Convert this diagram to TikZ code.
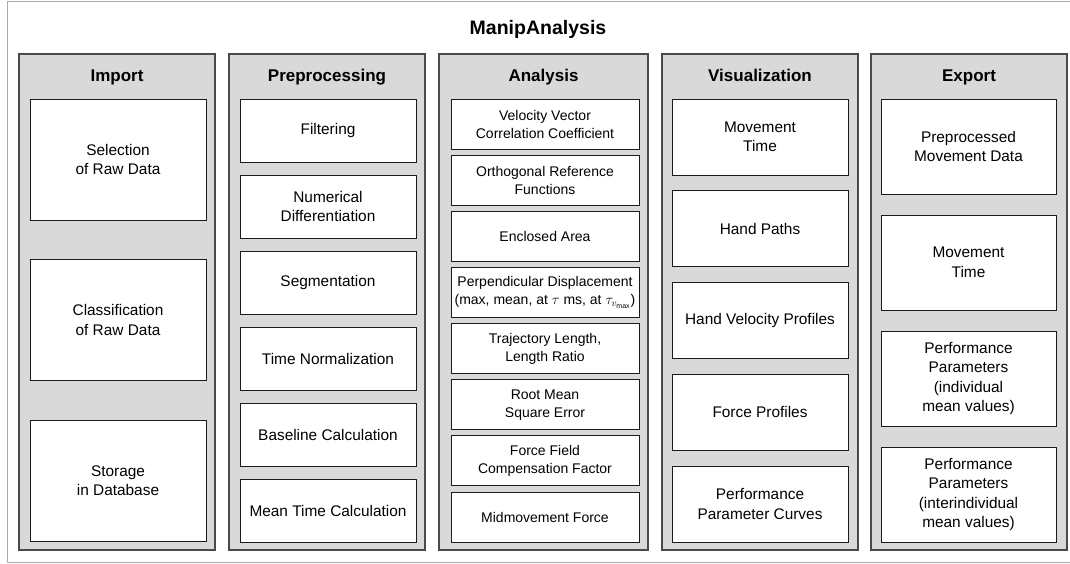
\documentclass[tikz,border=0pt]{standalone}
\usepackage{fontspec}
\usepackage{amsmath}
\setmainfont{Liberation Sans}
\definecolor{colfill}{HTML}{D9D9D9}
\definecolor{colborder}{HTML}{4A4A4A}
\definecolor{frameborder}{HTML}{ABABAB}
\definecolor{boxborder}{HTML}{1A1A1A}
\begin{document}
\begin{tikzpicture}[x=1pt,y=-1pt,
  column/.style={draw=colborder, fill=colfill, line width=1.3pt, minimum width=#1, minimum height=496pt, inner sep=0pt},
  inbox/.style={draw=boxborder, fill=white, line width=1pt, align=center, inner sep=2pt, font=\fontsize{15.4}{19.5}\selectfont, text=black},
  impbox/.style={inbox, minimum width=176pt, minimum height=121pt},
  prebox/.style={inbox, minimum width=176pt, minimum height=63pt},
  anabox/.style={inbox, minimum width=188pt, minimum height=50pt, font=\fontsize{14}{18}\selectfont},
  visbox/.style={inbox, minimum width=176pt, minimum height=76pt},
  expbox/.style={inbox, minimum width=175pt, minimum height=95pt},
  head/.style={font=\bfseries\fontsize{17}{20}\selectfont, text=black, text height=12.5pt, text depth=3.5pt},
  maintitle/.style={font=\bfseries\fontsize{19.5}{22}\selectfont, text=black}]
\fill[white] (0,0) rectangle (1070,563);
\useasboundingbox (0,0) rectangle (1070,563);
\draw[frameborder, line width=1pt] (1070,1) -- (7,1) -- (7,562) -- (1070,562);
\node[maintitle] (title) at (538,29) {ManipAnalysis};
% columns
\node[column=196pt] (cimp) at (117,302) {};
\node[column=196pt] (cpre) at (327,302) {};
\node[column=209pt] (cana) at (543.5,302) {};
\node[column=196pt] (cvis) at (760,302) {};
\node[column=196pt] (cexp) at (969,302) {};
% headers
\node[head] (himp) at (117,77) {Import};
\node[head] (hpre) at (327,77) {Preprocessing};
\node[head] (hana) at (543.5,77) {Analysis};
\node[head] (hvis) at (760,77) {Visualization};
\node[head] (hexp) at (969,77) {Export};
% Import
\node[impbox] (i1) at (118,159.5) {Selection\\of Raw Data};
\node[impbox] (i2) at (118,320) {Classification\\of Raw Data};
\node[impbox] (i3) at (118,480.5) {Storage\\in Database};
% Preprocessing
\node[prebox] (p1) at (328,130.5) {Filtering};
\node[prebox] (p2) at (328,206.5) {Numerical\\Differentiation};
\node[prebox] (p3) at (328,282.5) {Segmentation};
\node[prebox] (p4) at (328,358.5) {Time Normalization};
\node[prebox] (p5) at (328,434.5) {Baseline Calculation};
\node[prebox] (p6) at (328,510.5) {Mean Time Calculation};
% Analysis
\node[anabox] (a1) at (545,124) {Velocity Vector\\Correlation Coefficient};
\node[anabox] (a2) at (545,180.1) {Orthogonal Reference\\Functions};
\node[anabox] (a3) at (545,236.3) {Enclosed Area};
\node[anabox] (a4) at (545,292.4) {Perpendicular Displacement\\(max, mean, at $\tau$ ms, at $\tau_{v_{\text{max}}}$)};
\node[anabox] (a5) at (545,348.6) {Trajectory Length,\\Length Ratio};
\node[anabox] (a6) at (545,404.7) {Root Mean\\Square Error};
\node[anabox] (a7) at (545,460.9) {Force Field\\Compensation Factor};
\node[anabox] (a8) at (545,517) {Midmovement Force};
% Visualization
\node[visbox] (v1) at (760,137) {Movement\\Time};
\node[visbox] (v2) at (760,228.75) {Hand Paths};
\node[visbox] (v3) at (760,320.5) {Hand Velocity Profiles};
\node[visbox] (v4) at (760,412.25) {Force Profiles};
\node[visbox] (v5) at (760,504) {Performance\\Parameter Curves};
% Export
\node[expbox] (e1) at (968.5,146.5) {Preprocessed\\Movement Data};
\node[expbox] (e2) at (968.5,262.5) {Movement\\Time};
\node[expbox] (e3) at (968.5,378.5) {Performance\\Parameters\\(individual\\mean values)};
\node[expbox] (e4) at (968.5,494.5) {Performance\\Parameters\\(interindividual\\mean values)};
\end{tikzpicture}
\end{document}
